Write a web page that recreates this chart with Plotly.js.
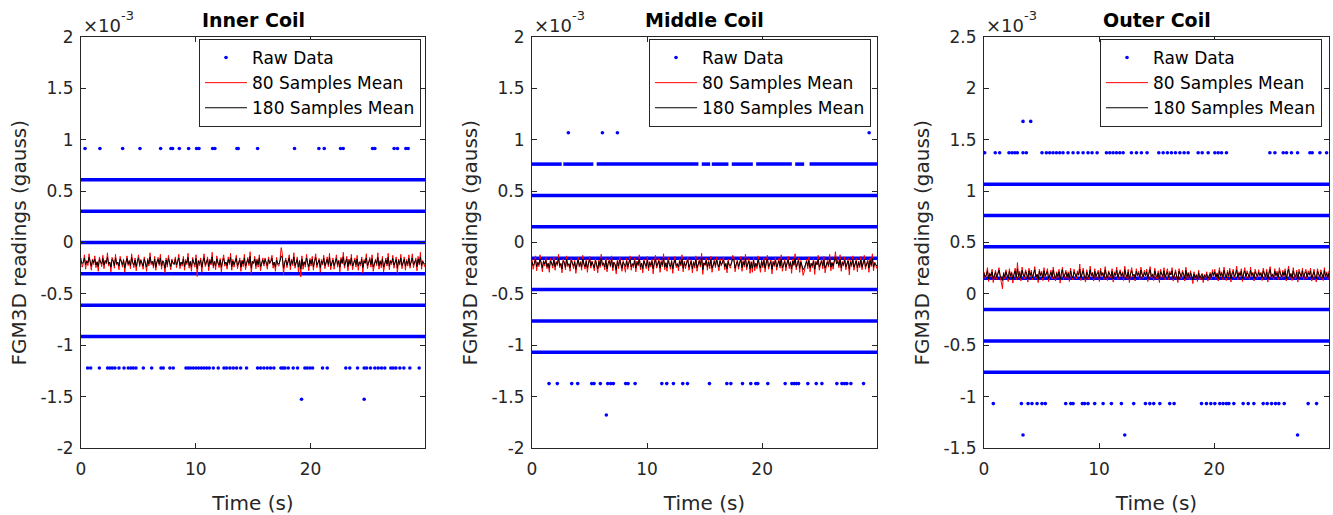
<!DOCTYPE html>
<html>
<head>
<meta charset="utf-8">
<script src="https://cdn.plot.ly/plotly-3.0.1.min.js"></script>
<style>html,body{margin:0;padding:0;background:#fff;}#chart{width:1333px;height:515px;}</style>
</head>
<body>
<div id="chart"></div>
<script>
// ---------- DATA (readings in units of 1e-3 gauss unless noted) ----------
const panelTitles = ['Inner Coil', 'Middle Coil', 'Outer Coil'];
const xLabel = 'Time (s)';
const yLabel = 'FGM3D readings (gauss)';
const exponentBase = '×10';
const exponentPower = '-3';
const legendNames = ['Raw Data', '80 Samples Mean', '180 Samples Mean'];
const timeRange = [0, 29.98];

const xTickVals = [0, 10, 20];
const xTickText = ['0', '10', '20'];
const yTickValsA = [-2, -1.5, -1, -0.5, 0, 0.5, 1, 1.5, 2];
const yTickTextA = ['-2', '-1.5', '-1', '-0.5', '0', '0.5', '1', '1.5', '2'];
const yTickValsB = [-1.5, -1, -0.5, 0, 0.5, 1, 1.5, 2, 2.5];
const yTickTextB = ['-1.5', '-1', '-0.5', '0', '0.5', '1', '1.5', '2', '2.5'];

// Inner coil raw data: quantised levels hit at (almost) every sample
const innerDenseLevels = [0.6104, 0.3052, 0, -0.3052, -0.6104, -0.9155];
// Inner coil raw data: sparse levels and the times (s) of their samples
const innerSparseLevels = [0.9155, -1.2207, -1.5259];
const innerSparseTimes = [
  [0.35,1.65,3.63,5.14,6.94,7.84,7.98,8.57,9.38,10.07,10.28,11.47,11.67,13.59,13.70,15.39,18.61,20.73,21.20,22.62,22.85,25.41,25.61,27.29,27.58,28.31,28.51],
  [0.58,0.84,1.60,2.32,2.53,2.73,2.96,3.31,3.75,4.12,4.36,4.56,4.79,5.43,6.16,6.97,7.17,7.75,8.04,9.15,9.35,9.55,9.78,10.02,10.25,10.48,10.71,10.95,11.18,11.53,11.96,12.46,12.69,12.98,13.27,13.56,13.91,14.43,15.39,15.65,15.94,16.23,16.52,16.81,17.42,17.60,17.77,18.06,18.49,18.87,19.51,19.71,19.95,20.18,21.05,21.46,23.08,23.43,24.10,24.68,24.89,25.23,25.61,25.90,26.19,26.48,27.00,27.21,27.44,27.79,28.14,28.66,29.47],
  [19.22,24.68]
];
// Inner coil moving means (units of 1e-6 gauss, evenly spaced over the record)
const innerMean80 = [
-150,-240,-205,-120,-260,-175,-225,-110,-195,-270,-160,-215,-130,-245,-185,-280,-140,-200,-235,-125,
-255,-170,-210,-100,-230,-190,-285,-145,-175,-250,-115,-220,-195,-265,-135,-180,-240,-160,-290,-205,
-130,-225,-170,-255,-110,-200,-245,-150,-275,-185,-120,-235,-165,-210,-260,-140,-195,-280,-155,-230,
-100,-215,-180,-250,-135,-270,-190,-145,-225,-115,-260,-175,-205,-295,-150,-240,-125,-185,-265,-160,
-210,-200,-140,-245,-175,-115,-255,-195,-230,-135,-270,-165,-215,-105,-250,-185,-280,-145,-200,-240,
-120,-330,-170,-225,-150,-290,-185,-110,-235,-205,-140,-275,-160,-220,-95,-250,-180,-265,-130,-210,
-245,-155,-285,-175,-120,-230,-195,-260,-140,-215,-105,-270,-165,-240,-185,-125,-255,-200,-150,-280,
-170,-235,-115,-265,-190,-145,-225,-90,-300,-180,-210,-135,-255,-160,-240,-120,-275,-195,-150,-230,
-150,-205,-260,-140,-210,-175,-125,-250,-190,-280,-145,-220,-230,-165,-50,-110,-315,-200,-150,-245,
-180,-120,-265,-160,-225,-100,-250,-195,-140,-285,-170,-335,-130,-260,-185,-240,-115,-205,-275,-155,
-230,-135,-270,-175,-110,-245,-200,-155,-290,-165,-220,-125,-255,-185,-140,-235,-105,-265,-195,-150,
-260,-180,-120,-240,-170,-285,-145,-210,-95,-250,-190,-135,-275,-160,-225,-115,-265,-200,-150,-240,
-125,-270,-185,-230,-140,-295,-165,-205,-110,-255,-180,-145,-240,-120,-280,-195,-160,-225,-100,-260,
-175,-245,-135,-285,-190,-150,-230,-105,-265,-170,-215,-125,-250,-185,-140,-300,-160,-220,-115,-255,
-195,-140,-270,-165,-230,-120,-250,-180,-110,-245,-200,-150,-275,-135,-220,-95,-260,-175,-210,-240];
const innerMean180 = [
-175,-205,-190,-150,-215,-180,-200,-145,-185,-230,-170,-195,-160,-220,-190,-235,-165,-185,-210,-155,
-220,-180,-195,-140,-210,-190,-240,-165,-180,-225,-150,-205,-190,-230,-160,-185,-215,-175,-245,-195,
-155,-210,-180,-225,-145,-195,-220,-170,-235,-185,-150,-215,-175,-200,-230,-160,-190,-240,-170,-210,
-140,-200,-185,-225,-160,-240,-190,-165,-210,-150,-230,-180,-195,-250,-170,-215,-155,-185,-235,-175,
-200,-215,-165,-220,-185,-150,-225,-190,-210,-160,-235,-180,-200,-145,-225,-185,-240,-165,-195,-215,
-155,-255,-180,-205,-170,-240,-185,-150,-215,-195,-165,-235,-175,-205,-140,-225,-185,-230,-160,-200,
-220,-170,-240,-185,-155,-210,-190,-225,-165,-200,-145,-235,-180,-215,-190,-155,-225,-195,-170,-240,
-180,-210,-150,-230,-190,-165,-205,-135,-250,-185,-200,-160,-225,-175,-215,-150,-235,-190,-170,-210,
-165,-195,-225,-165,-200,-185,-155,-220,-190,-240,-170,-205,-210,-180,-130,-150,-250,-195,-170,-220,
-185,-150,-230,-175,-205,-140,-225,-190,-165,-240,-180,-260,-160,-225,-190,-215,-150,-200,-235,-170,
-210,-160,-235,-185,-145,-220,-195,-170,-245,-180,-205,-155,-225,-190,-165,-215,-145,-230,-195,-170,
-225,-185,-155,-215,-180,-240,-165,-200,-140,-225,-190,-160,-235,-175,-210,-150,-230,-195,-170,-215,
-160,-230,-190,-210,-165,-245,-180,-200,-150,-225,-185,-165,-215,-155,-240,-195,-175,-205,-145,-225,
-185,-215,-160,-240,-190,-170,-210,-145,-230,-180,-200,-155,-220,-190,-165,-250,-175,-205,-150,-225,
-195,-165,-230,-180,-210,-155,-225,-185,-150,-215,-195,-170,-235,-160,-205,-140,-225,-185,-200,-215];

// Middle coil raw data
const middleDenseLevels = [0.4578, 0.1526, -0.1526, -0.4578, -0.7629, -1.0681];
const middleGappyLevel = 0.7629;
const middleGappyStarts = [0, 2.72, 5.62, 14.75, 15.62, 17.36, 19.48, 22.87, 24.12];
const middleGappyEnds = [2.58, 5.33, 14.46, 15.48, 17.07, 19.19, 22.58, 23.65, 29.98];
const middleSparseLevels = [1.0681, -1.3733, -1.6785];
const middleSparseTimes = [
  [3.16,6.12,7.42,29.30],
  [1.48,2.20,3.45,3.97,5.19,5.39,5.94,6.58,6.84,7.07,8.14,8.35,8.96,11.28,11.71,12.29,13.10,13.51,15.42,16.93,17.28,18.29,19.01,19.45,19.62,20.49,22.00,22.58,22.78,22.96,23.16,23.97,24.70,25.19,26.49,26.93,27.16,27.36,27.71,28.81],
  [6.46]
];
const middleMean80 = [
-165,-260,-210,-130,-275,-190,-235,-120,-215,-285,-175,-230,-145,-255,-200,-290,-155,-215,-250,-140,
-270,-185,-225,-115,-245,-205,-295,-160,-190,-265,-130,-235,-210,-280,-150,-195,-255,-175,-300,-220,
-145,-240,-185,-270,-125,-215,-260,-165,-290,-200,-135,-250,-180,-225,-275,-155,-210,-295,-170,-245,
-115,-230,-195,-265,-150,-285,-205,-160,-240,-130,-275,-190,-220,-305,-165,-255,-140,-200,-280,-175,
-225,-290,-155,-260,-190,-130,-270,-210,-245,-150,-285,-180,-230,-120,-265,-200,-295,-160,-215,-255,
-135,-275,-185,-240,-165,-305,-200,-125,-250,-220,-155,-290,-175,-235,-110,-265,-195,-280,-145,-225,
-260,-170,-300,-190,-135,-245,-210,-275,-155,-230,-120,-285,-180,-255,-200,-140,-270,-215,-165,-295,
-185,-250,-130,-280,-205,-160,-240,-105,-310,-195,-225,-150,-270,-175,-255,-135,-290,-210,-165,-245,
-140,-220,-275,-155,-230,-190,-140,-265,-205,-295,-160,-235,-250,-180,-125,-145,-285,-215,-165,-260,
-195,-135,-280,-175,-240,-115,-265,-210,-155,-300,-185,-290,-145,-275,-200,-255,-130,-220,-290,-170,
-245,-150,-285,-190,-125,-260,-215,-170,-305,-180,-235,-140,-270,-200,-155,-250,-120,-280,-210,-165,
-275,-195,-135,-255,-185,-300,-160,-225,-110,-265,-205,-150,-290,-175,-240,-320,-280,-215,-165,-255,
-140,-285,-200,-245,-155,-310,-180,-220,-125,-270,-195,-160,-255,-135,-295,-210,-175,-240,-115,-275,
-190,-260,-150,-90,-205,-165,-245,-120,-280,-185,-230,-140,-265,-200,-155,-315,-175,-235,-130,-270,
-210,-155,-285,-180,-245,-135,-265,-195,-125,-260,-215,-165,-290,-150,-235,-110,-275,-190,-225,-255];
const middleMean180 = [
-190,-225,-205,-165,-235,-195,-215,-160,-200,-245,-185,-210,-175,-235,-205,-250,-180,-200,-225,-170,
-235,-195,-210,-155,-225,-205,-255,-180,-195,-240,-165,-220,-205,-245,-175,-200,-230,-190,-260,-210,
-170,-225,-195,-240,-160,-210,-235,-185,-250,-200,-165,-230,-190,-215,-245,-175,-205,-255,-185,-225,
-155,-215,-200,-240,-175,-255,-205,-180,-225,-165,-245,-195,-210,-265,-185,-230,-170,-200,-250,-190,
-215,-235,-180,-235,-200,-165,-240,-205,-225,-175,-250,-195,-215,-160,-240,-200,-255,-180,-210,-230,
-170,-245,-195,-220,-185,-255,-200,-165,-230,-210,-180,-250,-190,-220,-155,-240,-200,-245,-175,-215,
-235,-185,-255,-200,-170,-225,-205,-240,-180,-215,-160,-250,-195,-230,-205,-170,-240,-210,-185,-255,
-195,-225,-165,-245,-205,-180,-220,-150,-265,-200,-215,-175,-240,-190,-230,-165,-250,-205,-185,-225,
-170,-210,-240,-180,-215,-200,-170,-235,-205,-255,-185,-220,-225,-195,-160,-175,-250,-210,-185,-235,
-200,-165,-245,-190,-220,-155,-240,-205,-180,-255,-195,-250,-175,-240,-205,-230,-165,-215,-250,-185,
-225,-175,-250,-200,-160,-235,-210,-185,-260,-195,-220,-170,-240,-205,-180,-230,-160,-245,-210,-185,
-240,-200,-170,-230,-195,-255,-180,-215,-155,-240,-205,-175,-250,-190,-225,-265,-245,-210,-185,-230,
-175,-245,-205,-225,-180,-260,-195,-215,-165,-240,-205,-180,-230,-170,-250,-210,-190,-225,-160,-240,
-200,-230,-175,-140,-210,-185,-225,-165,-245,-195,-215,-170,-235,-205,-180,-260,-190,-220,-165,-240,
-210,-180,-245,-195,-225,-170,-240,-200,-165,-235,-210,-185,-250,-175,-220,-155,-240,-200,-215,-230];

// Outer coil raw data
const outerDenseLevels = [1.0681, 0.7629, 0.4578, 0.1526, -0.1526, -0.4578, -0.7629];
const outerSparseLevels = [1.6785, 1.3733, -1.0681, -1.3733];
const outerSparseTimes = [
  [3.39,4.06,17.07,28.90],
  [0.06,0.98,1.36,2.17,2.43,2.67,2.90,3.39,3.68,5.04,5.42,5.71,6.00,6.29,6.58,6.87,7.30,7.74,8.17,8.61,9.04,9.39,9.83,10.64,10.93,11.22,11.51,11.80,12.09,12.81,13.25,13.68,14.17,15.19,15.57,15.94,16.29,16.64,17.02,17.39,17.74,18.61,18.96,19.48,20.06,20.35,20.64,21.07,24.84,25.28,26.00,26.29,26.72,27.25,28.32,28.52,29.19,29.77],
  [0.81,3.25,3.83,4.17,4.61,5.04,5.33,7.10,7.54,7.74,8.55,8.75,9.04,9.62,10.35,11.07,11.94,13.01,14.03,14.41,14.75,15.28,16.14,16.52,18.90,19.33,19.71,20.06,20.49,20.78,21.07,21.28,21.71,22.52,22.96,23.45,24.26,24.61,24.99,25.33,25.62,26.09,28.17,28.90],
  [3.39,12.23,27.25]
];
const outerMean80 = [
215,150,185,255,120,205,165,240,110,190,230,140,200,255,175,125,50,210,145,235,
180,120,245,165,215,105,195,250,140,305,160,220,125,260,185,145,235,200,115,250,
170,230,135,210,265,150,190,110,240,175,220,130,255,160,200,245,120,185,230,145,
260,175,125,215,155,240,105,200,260,140,185,230,150,215,120,250,170,135,240,190,
145,225,180,290,130,205,250,160,115,235,195,140,270,175,210,125,245,160,200,230,
120,250,175,210,140,265,185,130,225,195,155,245,115,215,180,260,140,200,235,165,
215,130,270,185,150,240,110,205,255,165,190,125,245,175,220,140,260,195,150,230,
175,240,120,215,265,155,195,130,250,180,145,225,110,240,190,160,255,135,205,245,
140,220,185,255,125,200,235,160,110,245,180,145,230,195,125,260,150,210,135,225,
160,100,215,145,190,120,230,135,175,200,110,190,150,215,125,180,210,140,235,175,
240,150,205,125,255,170,215,140,260,185,130,230,165,250,115,205,240,155,195,270,
135,215,175,245,120,200,255,150,225,190,140,260,170,210,125,240,185,150,235,175,
210,130,250,185,150,240,115,215,265,160,195,135,245,175,220,140,255,200,150,230,
170,245,125,210,270,150,200,130,255,180,145,230,115,240,195,160,250,135,205,240,
145,225,180,250,125,205,240,160,115,245,185,150,235,190,130,255,155,215,140,225];
const outerMean180 = [
200,165,185,225,145,195,175,215,150,190,210,160,195,230,180,155,130,200,165,215,
185,150,220,175,200,140,190,225,160,245,170,205,150,230,185,165,215,195,145,225,
180,210,155,200,235,165,190,140,220,180,205,155,225,175,195,220,150,185,210,165,
230,180,150,200,170,215,140,195,235,160,185,210,165,200,150,225,175,155,215,190,
165,205,185,240,155,195,225,170,145,210,190,160,235,180,200,150,220,170,195,210,
150,225,180,200,160,235,185,155,210,190,170,220,145,200,180,230,160,195,215,175,
200,155,235,185,165,215,145,195,225,175,190,150,220,180,205,160,230,190,165,210,
180,215,150,200,235,170,190,155,225,180,165,205,145,215,185,170,225,160,195,215,
160,205,185,225,150,195,215,170,140,220,180,165,210,190,150,230,170,200,160,205,
170,135,195,160,180,145,205,155,175,190,140,180,165,195,150,175,195,160,210,180,
215,165,195,150,225,175,200,160,230,185,155,210,175,225,145,195,215,170,190,235,
160,200,180,220,150,195,225,170,205,190,160,230,180,200,150,215,185,170,210,180,
200,155,225,185,165,215,145,200,235,170,190,160,220,180,205,160,225,195,165,210,
180,220,150,200,240,165,195,155,225,180,165,210,145,215,190,170,225,160,200,215,
165,205,185,225,150,195,215,170,145,220,185,165,210,190,155,230,170,200,160,205];

// ---------- BUILD ----------
const W = 1333, H = 515;
const axisLeftPx = [81, 532, 984];
const axisRightPx = [425, 877, 1329];
const axisTopPx = 37, axisBottomPx = 448;
const legendRightPx = [421, 871, 1322];
const legendTopPx = 39;

const panels = [
  {dense: innerDenseLevels, gap: null, sLv: innerSparseLevels, sT: innerSparseTimes, m80: innerMean80, m180: innerMean180, tv: yTickValsA, tt: yTickTextA, yr: [-2, 2]},
  {dense: middleDenseLevels, gap: {lv: middleGappyLevel, s: middleGappyStarts, e: middleGappyEnds}, sLv: middleSparseLevels, sT: middleSparseTimes, m80: middleMean80, m180: middleMean180, tv: yTickValsA, tt: yTickTextA, yr: [-2, 2]},
  {dense: outerDenseLevels, gap: null, sLv: outerSparseLevels, sT: outerSparseTimes, m80: outerMean80, m180: outerMean180, tv: yTickValsB, tt: yTickTextB, yr: [-1.5, 2.5]}
];

const BLUE = '#0000ff', RED = '#ff0000', BLACK = '#000000', AX = '#262626';
const FONT = 'DejaVu Sans, Arial, sans-serif';
const traces = [];
const layout = {
  width: W, height: H,
  margin: {l: 0, r: 0, t: 0, b: 0},
  paper_bgcolor: '#ffffff', plot_bgcolor: '#ffffff',
  showlegend: true,
  font: {family: FONT, size: 17, color: AX},
  annotations: []
};

panels.forEach((p, k) => {
  const sfx = k === 0 ? '' : String(k + 1);
  const xa = 'x' + sfx, ya = 'y' + sfx;
  const lg = 'legend' + sfx;

  const dx = [], dy = [];
  p.dense.forEach(lv => { dx.push(timeRange[0], timeRange[1], null); dy.push(lv, lv, null); });
  if (p.gap) {
    p.gap.s.forEach((s, i) => { dx.push(s, p.gap.e[i], null); dy.push(p.gap.lv, p.gap.lv, null); });
  }
  const sx = [], sy = [];
  p.sLv.forEach((lv, i) => { p.sT[i].forEach(t => { sx.push(t); sy.push(lv); }); });
  traces.push({x: sx, y: sy, xaxis: xa, yaxis: ya, type: 'scatter', mode: 'markers',
    marker: {color: BLUE, size: 3.6}, name: legendNames[0], legend: lg, legendgroup: 'raw' + k, hoverinfo: 'skip'});
  traces.push({x: dx, y: dy, xaxis: xa, yaxis: ya, type: 'scatter', mode: 'lines',
    line: {color: BLUE, width: 3.5}, showlegend: false, connectgaps: false, hoverinfo: 'skip'});

  const n80 = p.m80.length, n180 = p.m180.length;
  traces.push({y: p.m80.map(v => v / 1000), x0: timeRange[0], dx: (timeRange[1] - timeRange[0]) / (n80 - 1),
    xaxis: xa, yaxis: ya, type: 'scatter', mode: 'lines', line: {color: RED, width: 1},
    name: legendNames[1], legend: lg, legendgroup: 'm80' + k, hoverinfo: 'skip'});
  traces.push({y: p.m180.map(v => v / 1000), x0: timeRange[0], dx: (timeRange[1] - timeRange[0]) / (n180 - 1),
    xaxis: xa, yaxis: ya, type: 'scatter', mode: 'lines', line: {color: BLACK, width: 1},
    name: legendNames[2], legend: lg, legendgroup: 'm180' + k, hoverinfo: 'skip'});

  const xd = [axisLeftPx[k] / W, axisRightPx[k] / W];
  const yd = [1 - axisBottomPx / H, 1 - axisTopPx / H];
  const common = {showgrid: false, zeroline: false, showline: true, linecolor: AX, linewidth: 1,
    mirror: 'ticks', ticks: 'inside', ticklen: 5, tickwidth: 1, tickcolor: AX, automargin: false,
    tickfont: {family: FONT, size: 17, color: AX}, fixedrange: true};
  layout['xaxis' + sfx] = Object.assign({}, common, {domain: xd, anchor: ya, range: timeRange,
    tickmode: 'array', tickvals: xTickVals, ticktext: xTickText, ticklabelstandoff: 6,
    title: {text: xLabel, font: {family: FONT, size: 20, color: AX}}});
  layout['yaxis' + sfx] = Object.assign({}, common, {domain: yd, anchor: xa, range: p.yr,
    tickmode: 'array', tickvals: p.tv, ticktext: p.tt, ticklabelstandoff: 3});

  layout[lg] = {x: legendRightPx[k] / W, y: 1 - legendTopPx / H, xanchor: 'right', yanchor: 'top',
    xref: 'paper', yref: 'paper', bgcolor: '#ffffff', bordercolor: AX, borderwidth: 1,
    font: {family: FONT, size: 17, color: '#000000'}, tracegroupgap: 3, itemwidth: 42, traceorder: 'normal'};

  const cx = (axisLeftPx[k] + axisRightPx[k]) / 2 / W;
  const cy = 1 - (axisTopPx + axisBottomPx) / 2 / H;
  layout.annotations.push({text: '<b>' + panelTitles[k] + '</b>', xref: 'paper', yref: 'paper',
    x: cx, y: 1 - 20 / H, xanchor: 'center', yanchor: 'middle', showarrow: false,
    font: {family: FONT, size: 19, color: '#000000'}});
  layout.annotations.push({text: yLabel, xref: 'paper', yref: 'paper', textangle: -90,
    x: (axisLeftPx[k] - 63) / W, y: cy, xanchor: 'center', yanchor: 'middle', showarrow: false,
    font: {family: FONT, size: 20, color: AX}});
  layout.annotations.push({text: exponentBase, xref: 'paper', yref: 'paper',
    x: (axisLeftPx[k] + 0) / W, y: 1 - 26 / H, xanchor: 'left', yanchor: 'middle', showarrow: false,
    font: {family: FONT, size: 18, color: AX}});
  layout.annotations.push({text: exponentPower, xref: 'paper', yref: 'paper',
    x: (axisLeftPx[k] + 38) / W, y: 1 - 16 / H, xanchor: 'left', yanchor: 'middle', showarrow: false,
    font: {family: FONT, size: 13, color: AX}});
});

Plotly.newPlot('chart', traces, layout, {displayModeBar: false, staticPlot: true});
</script>
</body>
</html>
